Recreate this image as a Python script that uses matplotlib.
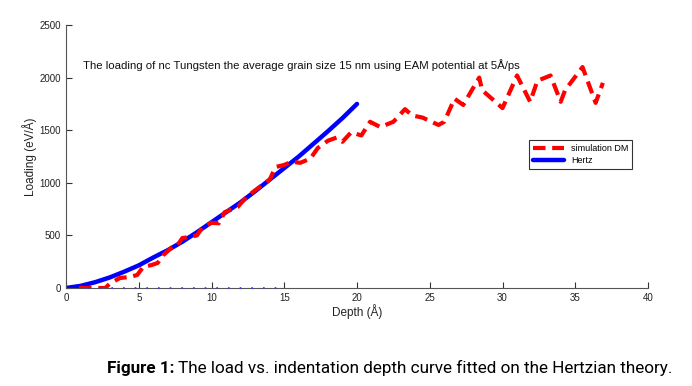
import matplotlib
matplotlib.use("Agg")
import matplotlib.pyplot as plt

# Simulation (red dashed) data
sim_depth = [0.9, 1.5, 2.1, 2.7, 3.0, 3.7, 4.4, 4.9, 5.3, 5.9, 6.3, 6.7, 7.3, 7.6, 8.0, 8.5,
             9.0, 9.4, 10.0, 10.5, 10.9, 11.8, 12.4, 13.3, 14.0, 14.4, 15.0, 15.5, 16.1, 16.8,
             17.3, 18.0, 18.6, 19.0, 19.6, 20.3, 20.9, 21.6, 22.5, 23.3, 23.8, 24.5, 25.6,
             26.0, 26.7, 27.3, 28.4, 28.6, 29.1, 30.0, 31.0, 31.9, 32.4, 33.3, 34.0, 34.3,
             35.5, 36.4, 36.9]
sim_load = [0, 0, 0, 0, 40, 95, 105, 124, 200, 219, 238, 314, 390, 395, 475, 485,
            500, 580, 620, 615, 720, 770, 865, 960, 1030, 1150, 1170, 1200, 1190, 1230,
            1330, 1400, 1430, 1390, 1480, 1450, 1580, 1530, 1580, 1700, 1640, 1620, 1550,
            1580, 1800, 1740, 2000, 1880, 1820, 1710, 2020, 1770, 1970, 2020, 1770, 1880,
            2100, 1760, 1950]

# Hertz fit (blue solid)
hertz_depth = [0, 1, 2, 3, 4, 5, 6, 7, 8, 9, 10, 11, 12, 13, 14, 15, 16, 17, 18, 19, 20]
hertz_load = [0, 20, 55, 100, 155, 215, 290, 360, 440, 530, 625, 720, 815, 920, 1030,
              1140, 1250, 1370, 1490, 1615, 1750]

# faint dotted baseline
base_depth = [1.5, 15.0]
base_load = [0, 0]

xticks = [0, 5, 10, 15, 20, 25, 30, 35, 40]
yticks = [0, 500, 1000, 1500, 2000, 2500]

title = "The loading of nc Tungsten the average grain size 15 nm using EAM potential at 5Å/ps"

fig = plt.figure(figsize=(6.92, 3.86), dpi=100)
ax = fig.add_axes([66/692, 1-288/386, (648-66)/692, (288-25)/386])

ax.plot(base_depth, base_load, color="#3030ff", linestyle=(0, (1, 6)), linewidth=1.2,
        clip_on=False, zorder=5)
ax.plot(hertz_depth, hertz_load, color="#0000ff", linewidth=3.2, label="Hertz",
        solid_capstyle="round")
ax.plot(sim_depth, sim_load, color="#ff0000", linewidth=3.0, linestyle=(0, (3, 1.6)),
        label="simulation DM")

ax.set_xlim(0, 40)
ax.set_ylim(0, 2500)
ax.set_xticks(xticks)
ax.set_yticks(yticks)
for s in ["top", "right"]:
    ax.spines[s].set_visible(False)
for s in ["left", "bottom"]:
    ax.spines[s].set_color("#555555")
    ax.spines[s].set_linewidth(0.8)
ax.tick_params(direction="in", length=4, width=0.8, colors="#333333",
               labelsize=7, labelcolor="#222222")
for lab in ax.get_xticklabels() + ax.get_yticklabels():
    lab.set_family("Liberation Sans")

ax.set_xlabel("Depth (Å)", fontsize=8.5, family="Liberation Sans", labelpad=1, color="#222222")
ax.set_ylabel("Loading (eV/Å)", fontsize=8.5, family="Liberation Sans", labelpad=2, color="#222222")

ax.text(1.2, 2120, title, fontsize=8.2, family="Liberation Sans", va="center", ha="left",
        color="#111111")

handles, labels = ax.get_legend_handles_labels()
order = [labels.index("simulation DM"), labels.index("Hertz")]
leg = ax.legend([handles[i] for i in order], [labels[i] for i in order],
                loc="upper left", bbox_to_anchor=(529/692, 1-140/386),
                bbox_transform=fig.transFigure, borderaxespad=0, frameon=True,
                fancybox=False, edgecolor="black", handlelength=3.4,
                borderpad=0.45, labelspacing=0.3, prop={"family": "Liberation Sans", "size": 6.5})
leg.get_frame().set_linewidth(0.8)

t1 = fig.text(107/692, 1-368/386, "Figure 1:", fontsize=12.3, fontweight="bold",
              family="Roboto", va="center", ha="left")
fig.canvas.draw()
bb = t1.get_window_extent()
x1 = bb.x1 / fig.bbox.width + 4/692
fig.text(x1, 1-368/386, "The load vs. indentation depth curve fitted on the Hertzian theory.",
         fontsize=12.3, family="Roboto", va="center", ha="left")

fig.savefig("out.png", dpi=100)
